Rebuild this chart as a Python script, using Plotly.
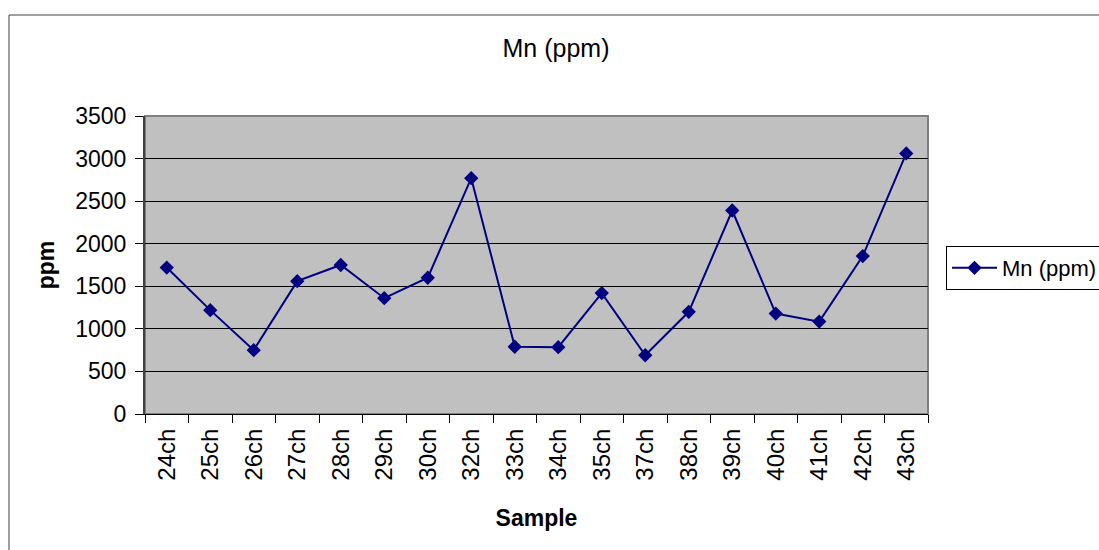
import plotly.graph_objects as go

# Sample identifiers and measured manganese concentrations
samples = ["24ch", "25ch", "26ch", "27ch", "28ch", "29ch", "30ch", "32ch", "33ch",
           "34ch", "35ch", "37ch", "38ch", "39ch", "40ch", "41ch", "42ch", "43ch"]
mn_ppm = [1720, 1220, 750, 1560, 1750, 1360, 1600, 2770, 790,
          785, 1420, 690, 1200, 2390, 1180, 1085, 1855, 3060]

y_ticks = [0, 500, 1000, 1500, 2000, 2500, 3000, 3500]

FONT = "Liberation Sans, Arial, sans-serif"
NAVY = "#000080"

W, H = 1099, 550
ML, MR, MT, MB = 145, 171, 116, 136
PW, PH = W - ML - MR, H - MT - MB

fig = go.Figure()
fig.add_trace(go.Scatter(
    x=samples, y=mn_ppm, mode="lines+markers", name="Mn (ppm)",
    line=dict(color=NAVY, width=2),
    marker=dict(symbol="diamond", size=11, color=NAVY),
))


def px_x(p):
    return (p - ML) / PW


def px_y(p):
    return (H - MB - p) / PH


fig.update_layout(
    width=W, height=H,
    margin=dict(l=ML, r=MR, t=MT, b=MB, autoexpand=False),
    paper_bgcolor="white",
    plot_bgcolor="#C0C0C0",
    font=dict(family=FONT, size=22, color="black"),
    title=dict(text="Mn (ppm)", x=px_x(556), xref="paper", xanchor="center",
               y=1 - 48 / H, yref="container", yanchor="middle",
               font=dict(size=25, family=FONT, color="black")),
    showlegend=True,
    legend=dict(x=px_x(946), xanchor="left", y=px_y(246), yanchor="top",
                bordercolor="black", borderwidth=1, bgcolor="white",
                font=dict(size=22, family=FONT), itemwidth=45,
                tracegroupgap=0),
    xaxis=dict(
        type="category", range=[-0.5, len(samples) - 0.5],
        tickson="boundaries", ticks="outside", ticklen=8, tickcolor="black",
        tickangle=-90, tickfont=dict(size=24), ticklabelstandoff=4,
        showgrid=False, showline=True, linecolor="black", linewidth=1,
        title=dict(text="<b>Sample</b>", font=dict(size=23), standoff=30),
    ),
    yaxis=dict(
        range=[0, 3500], tickvals=y_ticks, ticks="outside", ticklen=8,
        tickcolor="black", tickfont=dict(size=23), ticklabelstandoff=4,
        showgrid=True, gridcolor="black", gridwidth=1,
        showline=True, linecolor="#404040", linewidth=2,
        zeroline=False,
        title=dict(text="<b>ppm</b>", font=dict(size=23), standoff=14),
    ),
    shapes=[
        # plot area border
        dict(type="rect", xref="paper", yref="paper", x0=0, y0=0, x1=1, y1=1,
             line=dict(color="#808080", width=2), layer="below"),
        # outer chart frame
        dict(type="rect", xref="paper", yref="paper",
             x0=px_x(9), y0=px_y(15), x1=px_x(W + 5), y1=px_y(H + 5),
             line=dict(color="#404040", width=1)),
    ],
)

fig.write_html("out.html")
